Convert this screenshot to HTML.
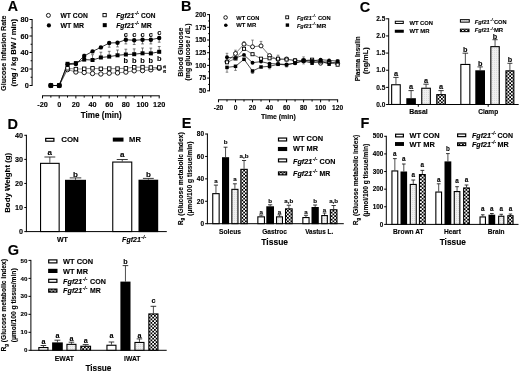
<!DOCTYPE html><html><head><meta charset="utf-8"><style>html,body{margin:0;padding:0;background:#fff;overflow:hidden;}svg text{stroke:#000;stroke-width:0.12px;}svg{display:block;filter:blur(0.35px);font-family:"Liberation Sans",sans-serif;font-weight:bold;}</style></head><body>
<svg width="520" height="373" viewBox="0 0 520 373">
<defs><pattern id="dots" width="2" height="2" patternUnits="userSpaceOnUse"><rect width="2" height="2" fill="#f0f0f0"/><rect width="1" height="1" fill="#dcdcdc"/></pattern><pattern id="chk" width="3.5" height="3.5" patternUnits="userSpaceOnUse"><rect width="3.5" height="3.5" fill="#fff"/><rect x="0" y="0" width="1.75" height="1.75" fill="#000"/><rect x="1.75" y="1.75" width="1.75" height="1.75" fill="#000"/></pattern></defs>
<rect width="520" height="373" fill="#fff"/>
<text x="12.75" y="10.83" font-size="14.2" text-anchor="middle" >A</text>
<text transform="translate(6.34,53.2) rotate(-90)" x="0" y="0" font-size="7.1" text-anchor="middle" textLength="75.4" lengthAdjust="spacingAndGlyphs">Glucose Infusion Rate</text>
<text transform="translate(16.48,52.8) rotate(-90)" x="0" y="0" font-size="7.5" text-anchor="middle" textLength="67.6" lengthAdjust="spacingAndGlyphs">(mg / kg BW / min)</text>
<line x1="32.1" y1="19" x2="32.1" y2="86" stroke="#000" stroke-width="1"/>
<line x1="29.5" y1="19.5" x2="32.1" y2="19.5" stroke="#000" stroke-width="1"/>
<text x="28.7" y="22.01" font-size="7.3" text-anchor="end" >80</text>
<line x1="29.5" y1="36" x2="32.1" y2="36" stroke="#000" stroke-width="1"/>
<text x="28.7" y="38.51" font-size="7.3" text-anchor="end" >60</text>
<line x1="29.5" y1="52.5" x2="32.1" y2="52.5" stroke="#000" stroke-width="1"/>
<text x="28.7" y="55.01" font-size="7.3" text-anchor="end" >40</text>
<line x1="29.5" y1="69" x2="32.1" y2="69" stroke="#000" stroke-width="1"/>
<text x="28.7" y="71.51" font-size="7.3" text-anchor="end" >20</text>
<line x1="29.5" y1="85.5" x2="32.1" y2="85.5" stroke="#000" stroke-width="1"/>
<text x="28.7" y="88.01" font-size="7.3" text-anchor="end" >0</text>
<line x1="30.6" y1="27.75" x2="32.1" y2="27.75" stroke="#000" stroke-width="1"/>
<line x1="30.6" y1="44.25" x2="32.1" y2="44.25" stroke="#000" stroke-width="1"/>
<line x1="30.6" y1="60.75" x2="32.1" y2="60.75" stroke="#000" stroke-width="1"/>
<line x1="30.6" y1="77.25" x2="32.1" y2="77.25" stroke="#000" stroke-width="1"/>
<line x1="42.03" y1="95.8" x2="159.7" y2="95.8" stroke="#000" stroke-width="1"/>
<line x1="42.53" y1="95.8" x2="42.53" y2="98.4" stroke="#000" stroke-width="1"/>
<line x1="50.87" y1="95.8" x2="50.87" y2="97.6" stroke="#000" stroke-width="1"/>
<line x1="59.2" y1="95.8" x2="59.2" y2="98.4" stroke="#000" stroke-width="1"/>
<line x1="67.53" y1="95.8" x2="67.53" y2="97.6" stroke="#000" stroke-width="1"/>
<line x1="75.87" y1="95.8" x2="75.87" y2="98.4" stroke="#000" stroke-width="1"/>
<line x1="84.2" y1="95.8" x2="84.2" y2="97.6" stroke="#000" stroke-width="1"/>
<line x1="92.53" y1="95.8" x2="92.53" y2="98.4" stroke="#000" stroke-width="1"/>
<line x1="100.87" y1="95.8" x2="100.87" y2="97.6" stroke="#000" stroke-width="1"/>
<line x1="109.2" y1="95.8" x2="109.2" y2="98.4" stroke="#000" stroke-width="1"/>
<line x1="117.53" y1="95.8" x2="117.53" y2="97.6" stroke="#000" stroke-width="1"/>
<line x1="125.86" y1="95.8" x2="125.86" y2="98.4" stroke="#000" stroke-width="1"/>
<line x1="134.2" y1="95.8" x2="134.2" y2="97.6" stroke="#000" stroke-width="1"/>
<line x1="142.53" y1="95.8" x2="142.53" y2="98.4" stroke="#000" stroke-width="1"/>
<line x1="150.86" y1="95.8" x2="150.86" y2="97.6" stroke="#000" stroke-width="1"/>
<line x1="159.2" y1="95.8" x2="159.2" y2="98.4" stroke="#000" stroke-width="1"/>
<text x="42.53" y="106.91" font-size="7.3" text-anchor="middle" >-20</text>
<text x="59.2" y="106.91" font-size="7.3" text-anchor="middle" >0</text>
<text x="75.87" y="106.91" font-size="7.3" text-anchor="middle" >20</text>
<text x="92.53" y="106.91" font-size="7.3" text-anchor="middle" >40</text>
<text x="109.2" y="106.91" font-size="7.3" text-anchor="middle" >60</text>
<text x="125.86" y="106.91" font-size="7.3" text-anchor="middle" >80</text>
<text x="142.53" y="106.91" font-size="7.3" text-anchor="middle" >100</text>
<text x="159.2" y="106.91" font-size="7.3" text-anchor="middle" >120</text>
<text x="101.2" y="118.16" font-size="8.3" text-anchor="middle" textLength="40.8" lengthAdjust="spacingAndGlyphs" >Time (min)</text>
<circle cx="48.4" cy="15.4" r="2" fill="#fff" stroke="#000" stroke-width="0.9"/>
<circle cx="48.9" cy="25.4" r="2.1" fill="#000"/>
<text x="60.5" y="17.87" font-size="6.6" textLength="27.3" lengthAdjust="spacingAndGlyphs" >WT CON</text>
<text x="60.5" y="27.87" font-size="6.6" textLength="23.6" lengthAdjust="spacingAndGlyphs" >WT MR</text>
<rect x="102.95" y="13.45" width="3.3" height="3.3" fill="#fff" stroke="#000" stroke-width="0.9"/>
<rect x="102.75" y="23.15" width="4" height="4" fill="#000"/>
<text x="116.2" y="17.87" font-size="6.6" textLength="18.1" lengthAdjust="spacingAndGlyphs" font-style="italic" >Fgf21</text>
<text x="134.7" y="14.94" font-size="4.75" font-style="italic">-/-</text>
<text x="141" y="17.87" font-size="6.6" textLength="14.5" lengthAdjust="spacingAndGlyphs" >CON</text>
<text x="116.2" y="27.87" font-size="6.6" textLength="18.1" lengthAdjust="spacingAndGlyphs" font-style="italic" >Fgf21</text>
<text x="134.7" y="24.94" font-size="4.75" font-style="italic">-/-</text>
<text x="141" y="27.87" font-size="6.6" textLength="10.8" lengthAdjust="spacingAndGlyphs" >MR</text>
<polyline fill="none" stroke="#555" stroke-width="0.7" points="50.87,85.5 59.2,85.5 67.53,69.6 75.87,72 84.2,72.5 92.53,73.5 100.87,74 109.2,73.2 117.53,72.9 125.86,72.1 134.2,70.8 142.53,70.6 150.86,69.8 159.2,68.3"/>
<polyline fill="none" stroke="#555" stroke-width="0.7" points="50.87,85.5 59.2,85.5 67.53,68.3 75.87,69.1 84.2,68.8 92.53,68.3 100.87,68.8 109.2,68.6 117.53,68.6 125.86,68.3 134.2,67.2 142.53,67.1 150.86,67.5 159.2,67.5"/>
<polyline fill="none" stroke="#000" stroke-width="0.8" points="50.87,85.5 59.2,85.5 67.53,64.5 75.87,64 84.2,56 92.53,51.4 100.87,47.4 109.2,43 117.53,42.7 125.86,39.7 134.2,40.3 142.53,39.7 150.86,39.7 159.2,38"/>
<polyline fill="none" stroke="#000" stroke-width="0.8" points="50.87,85.5 59.2,85.5 67.53,63.8 75.87,63.1 84.2,59.6 92.53,60 100.87,57.5 109.2,56.6 117.53,55.3 125.86,54.5 134.2,54.2 142.53,53.3 150.86,53.4 159.2,51.8"/>
<line x1="84.2" y1="59.6" x2="84.2" y2="54.3" stroke="#444" stroke-width="0.7"/>
<line x1="82.8" y1="54.3" x2="85.6" y2="54.3" stroke="#444" stroke-width="0.7"/>
<line x1="92.53" y1="60" x2="92.53" y2="54.7" stroke="#444" stroke-width="0.7"/>
<line x1="91.13" y1="54.7" x2="93.93" y2="54.7" stroke="#444" stroke-width="0.7"/>
<line x1="100.87" y1="57.5" x2="100.87" y2="52.2" stroke="#444" stroke-width="0.7"/>
<line x1="99.47" y1="52.2" x2="102.27" y2="52.2" stroke="#444" stroke-width="0.7"/>
<line x1="109.2" y1="56.6" x2="109.2" y2="51.3" stroke="#444" stroke-width="0.7"/>
<line x1="107.8" y1="51.3" x2="110.6" y2="51.3" stroke="#444" stroke-width="0.7"/>
<line x1="117.53" y1="55.3" x2="117.53" y2="50" stroke="#444" stroke-width="0.7"/>
<line x1="116.13" y1="50" x2="118.93" y2="50" stroke="#444" stroke-width="0.7"/>
<line x1="125.86" y1="54.5" x2="125.86" y2="49.2" stroke="#444" stroke-width="0.7"/>
<line x1="124.46" y1="49.2" x2="127.26" y2="49.2" stroke="#444" stroke-width="0.7"/>
<line x1="134.2" y1="54.2" x2="134.2" y2="48.9" stroke="#444" stroke-width="0.7"/>
<line x1="132.8" y1="48.9" x2="135.6" y2="48.9" stroke="#444" stroke-width="0.7"/>
<line x1="142.53" y1="53.3" x2="142.53" y2="48" stroke="#444" stroke-width="0.7"/>
<line x1="141.13" y1="48" x2="143.93" y2="48" stroke="#444" stroke-width="0.7"/>
<line x1="150.86" y1="53.4" x2="150.86" y2="48.1" stroke="#444" stroke-width="0.7"/>
<line x1="149.46" y1="48.1" x2="152.26" y2="48.1" stroke="#444" stroke-width="0.7"/>
<line x1="159.2" y1="51.8" x2="159.2" y2="46.5" stroke="#444" stroke-width="0.7"/>
<line x1="157.8" y1="46.5" x2="160.6" y2="46.5" stroke="#444" stroke-width="0.7"/>
<line x1="109.2" y1="43" x2="109.2" y2="47.2" stroke="#444" stroke-width="0.7"/>
<line x1="107.8" y1="47.2" x2="110.6" y2="47.2" stroke="#444" stroke-width="0.7"/>
<line x1="117.53" y1="42.7" x2="117.53" y2="46.9" stroke="#444" stroke-width="0.7"/>
<line x1="116.13" y1="46.9" x2="118.93" y2="46.9" stroke="#444" stroke-width="0.7"/>
<line x1="125.86" y1="39.7" x2="125.86" y2="43.9" stroke="#444" stroke-width="0.7"/>
<line x1="124.46" y1="43.9" x2="127.26" y2="43.9" stroke="#444" stroke-width="0.7"/>
<line x1="134.2" y1="40.3" x2="134.2" y2="44.5" stroke="#444" stroke-width="0.7"/>
<line x1="132.8" y1="44.5" x2="135.6" y2="44.5" stroke="#444" stroke-width="0.7"/>
<line x1="142.53" y1="39.7" x2="142.53" y2="43.9" stroke="#444" stroke-width="0.7"/>
<line x1="141.13" y1="43.9" x2="143.93" y2="43.9" stroke="#444" stroke-width="0.7"/>
<line x1="150.86" y1="39.7" x2="150.86" y2="43.9" stroke="#444" stroke-width="0.7"/>
<line x1="149.46" y1="43.9" x2="152.26" y2="43.9" stroke="#444" stroke-width="0.7"/>
<line x1="159.2" y1="38" x2="159.2" y2="42.2" stroke="#444" stroke-width="0.7"/>
<line x1="157.8" y1="42.2" x2="160.6" y2="42.2" stroke="#444" stroke-width="0.7"/>
<circle cx="50.87" cy="85.5" r="2.2" fill="#fff" stroke="#000" stroke-width="0.9"/>
<circle cx="59.2" cy="85.5" r="2.2" fill="#fff" stroke="#000" stroke-width="0.9"/>
<circle cx="67.53" cy="69.6" r="2.2" fill="#fff" stroke="#000" stroke-width="0.9"/>
<circle cx="75.87" cy="72" r="2.2" fill="#fff" stroke="#000" stroke-width="0.9"/>
<circle cx="84.2" cy="72.5" r="2.2" fill="#fff" stroke="#000" stroke-width="0.9"/>
<circle cx="92.53" cy="73.5" r="2.2" fill="#fff" stroke="#000" stroke-width="0.9"/>
<circle cx="100.87" cy="74" r="2.2" fill="#fff" stroke="#000" stroke-width="0.9"/>
<circle cx="109.2" cy="73.2" r="2.2" fill="#fff" stroke="#000" stroke-width="0.9"/>
<circle cx="117.53" cy="72.9" r="2.2" fill="#fff" stroke="#000" stroke-width="0.9"/>
<circle cx="125.86" cy="72.1" r="2.2" fill="#fff" stroke="#000" stroke-width="0.9"/>
<circle cx="134.2" cy="70.8" r="2.2" fill="#fff" stroke="#000" stroke-width="0.9"/>
<circle cx="142.53" cy="70.6" r="2.2" fill="#fff" stroke="#000" stroke-width="0.9"/>
<circle cx="150.86" cy="69.8" r="2.2" fill="#fff" stroke="#000" stroke-width="0.9"/>
<circle cx="159.2" cy="68.3" r="2.2" fill="#fff" stroke="#000" stroke-width="0.9"/>
<rect x="49.12" y="83.75" width="3.5" height="3.5" fill="#fff" stroke="#000" stroke-width="0.9"/>
<rect x="57.45" y="83.75" width="3.5" height="3.5" fill="#fff" stroke="#000" stroke-width="0.9"/>
<rect x="65.78" y="66.55" width="3.5" height="3.5" fill="#fff" stroke="#000" stroke-width="0.9"/>
<rect x="74.12" y="67.35" width="3.5" height="3.5" fill="#fff" stroke="#000" stroke-width="0.9"/>
<rect x="82.45" y="67.05" width="3.5" height="3.5" fill="#fff" stroke="#000" stroke-width="0.9"/>
<rect x="90.78" y="66.55" width="3.5" height="3.5" fill="#fff" stroke="#000" stroke-width="0.9"/>
<rect x="99.12" y="67.05" width="3.5" height="3.5" fill="#fff" stroke="#000" stroke-width="0.9"/>
<rect x="107.45" y="66.85" width="3.5" height="3.5" fill="#fff" stroke="#000" stroke-width="0.9"/>
<rect x="115.78" y="66.85" width="3.5" height="3.5" fill="#fff" stroke="#000" stroke-width="0.9"/>
<rect x="124.11" y="66.55" width="3.5" height="3.5" fill="#fff" stroke="#000" stroke-width="0.9"/>
<rect x="132.45" y="65.45" width="3.5" height="3.5" fill="#fff" stroke="#000" stroke-width="0.9"/>
<rect x="140.78" y="65.35" width="3.5" height="3.5" fill="#fff" stroke="#000" stroke-width="0.9"/>
<rect x="149.11" y="65.75" width="3.5" height="3.5" fill="#fff" stroke="#000" stroke-width="0.9"/>
<rect x="157.45" y="65.75" width="3.5" height="3.5" fill="#fff" stroke="#000" stroke-width="0.9"/>
<circle cx="50.87" cy="85.5" r="2.2" fill="#000"/>
<circle cx="59.2" cy="85.5" r="2.2" fill="#000"/>
<circle cx="67.53" cy="64.5" r="2.2" fill="#000"/>
<circle cx="75.87" cy="64" r="2.2" fill="#000"/>
<circle cx="84.2" cy="56" r="2.2" fill="#000"/>
<circle cx="92.53" cy="51.4" r="2.2" fill="#000"/>
<circle cx="100.87" cy="47.4" r="2.2" fill="#000"/>
<circle cx="109.2" cy="43" r="2.2" fill="#000"/>
<circle cx="117.53" cy="42.7" r="2.2" fill="#000"/>
<circle cx="125.86" cy="39.7" r="2.2" fill="#000"/>
<circle cx="134.2" cy="40.3" r="2.2" fill="#000"/>
<circle cx="142.53" cy="39.7" r="2.2" fill="#000"/>
<circle cx="150.86" cy="39.7" r="2.2" fill="#000"/>
<circle cx="159.2" cy="38" r="2.2" fill="#000"/>
<rect x="48.87" y="83.5" width="4" height="4" fill="#000"/>
<rect x="57.2" y="83.5" width="4" height="4" fill="#000"/>
<rect x="65.53" y="61.8" width="4" height="4" fill="#000"/>
<rect x="73.87" y="61.1" width="4" height="4" fill="#000"/>
<rect x="82.2" y="57.6" width="4" height="4" fill="#000"/>
<rect x="90.53" y="58" width="4" height="4" fill="#000"/>
<rect x="98.87" y="55.5" width="4" height="4" fill="#000"/>
<rect x="107.2" y="54.6" width="4" height="4" fill="#000"/>
<rect x="115.53" y="53.3" width="4" height="4" fill="#000"/>
<rect x="123.86" y="52.5" width="4" height="4" fill="#000"/>
<rect x="132.2" y="52.2" width="4" height="4" fill="#000"/>
<rect x="140.53" y="51.3" width="4" height="4" fill="#000"/>
<rect x="148.86" y="51.4" width="4" height="4" fill="#000"/>
<rect x="157.2" y="49.8" width="4" height="4" fill="#000"/>
<text x="125.86" y="37.12" font-size="7.4" text-anchor="middle" >c</text>
<text x="125.86" y="62.96" font-size="7.4" text-anchor="middle" >b</text>
<text x="134.2" y="37.12" font-size="7.4" text-anchor="middle" >c</text>
<text x="134.2" y="62.96" font-size="7.4" text-anchor="middle" >b</text>
<text x="142.53" y="37.12" font-size="7.4" text-anchor="middle" >c</text>
<text x="142.53" y="62.96" font-size="7.4" text-anchor="middle" >b</text>
<text x="150.86" y="37.12" font-size="7.4" text-anchor="middle" >c</text>
<text x="150.86" y="62.96" font-size="7.4" text-anchor="middle" >b</text>
<text x="159.2" y="34.62" font-size="7.4" text-anchor="middle" >c</text>
<text x="159.2" y="61.26" font-size="7.4" text-anchor="middle" >b</text>
<text transform="translate(166.3,73.0) rotate(-90)" font-size="5.4" x="0" y="0">a a</text>
<text x="186.3" y="11.29" font-size="14.5" text-anchor="middle" >B</text>
<text transform="translate(182.67,52.2) rotate(-90)" x="0" y="0" font-size="6.9" text-anchor="middle" textLength="49.2" lengthAdjust="spacingAndGlyphs">Blood Glucose</text>
<text transform="translate(190.17,52) rotate(-90)" x="0" y="0" font-size="6.9" text-anchor="middle" textLength="56.9" lengthAdjust="spacingAndGlyphs">(mg glucose / dL)</text>
<line x1="209.5" y1="14.1" x2="209.5" y2="91.3" stroke="#000" stroke-width="1"/>
<line x1="207.1" y1="14.6" x2="209.5" y2="14.6" stroke="#000" stroke-width="1"/>
<text x="206.3" y="16.87" font-size="6.6" text-anchor="end" >200</text>
<line x1="207.1" y1="27.3" x2="209.5" y2="27.3" stroke="#000" stroke-width="1"/>
<text x="206.3" y="29.57" font-size="6.6" text-anchor="end" >175</text>
<line x1="207.1" y1="40" x2="209.5" y2="40" stroke="#000" stroke-width="1"/>
<text x="206.3" y="42.27" font-size="6.6" text-anchor="end" >150</text>
<line x1="207.1" y1="52.7" x2="209.5" y2="52.7" stroke="#000" stroke-width="1"/>
<text x="206.3" y="54.97" font-size="6.6" text-anchor="end" >125</text>
<line x1="207.1" y1="65.4" x2="209.5" y2="65.4" stroke="#000" stroke-width="1"/>
<text x="206.3" y="67.67" font-size="6.6" text-anchor="end" >100</text>
<line x1="207.1" y1="78.1" x2="209.5" y2="78.1" stroke="#000" stroke-width="1"/>
<text x="206.3" y="80.37" font-size="6.6" text-anchor="end" >75</text>
<line x1="207.1" y1="90.8" x2="209.5" y2="90.8" stroke="#000" stroke-width="1"/>
<text x="206.3" y="93.07" font-size="6.6" text-anchor="end" >50</text>
<line x1="208.2" y1="84.45" x2="209.5" y2="84.45" stroke="#000" stroke-width="1"/>
<line x1="208.2" y1="71.75" x2="209.5" y2="71.75" stroke="#000" stroke-width="1"/>
<line x1="208.2" y1="59.05" x2="209.5" y2="59.05" stroke="#000" stroke-width="1"/>
<line x1="208.2" y1="46.35" x2="209.5" y2="46.35" stroke="#000" stroke-width="1"/>
<line x1="208.2" y1="33.65" x2="209.5" y2="33.65" stroke="#000" stroke-width="1"/>
<line x1="208.2" y1="20.95" x2="209.5" y2="20.95" stroke="#000" stroke-width="1"/>
<line x1="217.98" y1="99.8" x2="338.12" y2="99.8" stroke="#000" stroke-width="1"/>
<line x1="218.48" y1="99.8" x2="218.48" y2="102.3" stroke="#000" stroke-width="1"/>
<line x1="226.99" y1="99.8" x2="226.99" y2="101.6" stroke="#000" stroke-width="1"/>
<line x1="235.5" y1="99.8" x2="235.5" y2="102.3" stroke="#000" stroke-width="1"/>
<line x1="244.01" y1="99.8" x2="244.01" y2="101.6" stroke="#000" stroke-width="1"/>
<line x1="252.52" y1="99.8" x2="252.52" y2="102.3" stroke="#000" stroke-width="1"/>
<line x1="261.03" y1="99.8" x2="261.03" y2="101.6" stroke="#000" stroke-width="1"/>
<line x1="269.54" y1="99.8" x2="269.54" y2="102.3" stroke="#000" stroke-width="1"/>
<line x1="278.05" y1="99.8" x2="278.05" y2="101.6" stroke="#000" stroke-width="1"/>
<line x1="286.56" y1="99.8" x2="286.56" y2="102.3" stroke="#000" stroke-width="1"/>
<line x1="295.07" y1="99.8" x2="295.07" y2="101.6" stroke="#000" stroke-width="1"/>
<line x1="303.58" y1="99.8" x2="303.58" y2="102.3" stroke="#000" stroke-width="1"/>
<line x1="312.09" y1="99.8" x2="312.09" y2="101.6" stroke="#000" stroke-width="1"/>
<line x1="320.6" y1="99.8" x2="320.6" y2="102.3" stroke="#000" stroke-width="1"/>
<line x1="329.11" y1="99.8" x2="329.11" y2="101.6" stroke="#000" stroke-width="1"/>
<line x1="337.62" y1="99.8" x2="337.62" y2="102.3" stroke="#000" stroke-width="1"/>
<text x="218.48" y="110.17" font-size="6.6" text-anchor="middle" >-20</text>
<text x="235.5" y="110.17" font-size="6.6" text-anchor="middle" >0</text>
<text x="252.52" y="110.17" font-size="6.6" text-anchor="middle" >20</text>
<text x="269.54" y="110.17" font-size="6.6" text-anchor="middle" >40</text>
<text x="286.56" y="110.17" font-size="6.6" text-anchor="middle" >60</text>
<text x="303.58" y="110.17" font-size="6.6" text-anchor="middle" >80</text>
<text x="320.6" y="110.17" font-size="6.6" text-anchor="middle" >100</text>
<text x="337.62" y="110.17" font-size="6.6" text-anchor="middle" >120</text>
<text x="278.3" y="118.78" font-size="7.2" text-anchor="middle" textLength="34.8" lengthAdjust="spacingAndGlyphs" >Time (min)</text>
<circle cx="225.6" cy="17.5" r="1.8" fill="#fff" stroke="#000" stroke-width="0.9"/>
<circle cx="225.8" cy="25.3" r="1.8" fill="#000"/>
<text x="236.3" y="19.56" font-size="6" textLength="23" lengthAdjust="spacingAndGlyphs" >WT CON</text>
<text x="236.3" y="27.36" font-size="6" textLength="20" lengthAdjust="spacingAndGlyphs" >WT MR</text>
<rect x="285.75" y="15.85" width="2.9" height="2.9" fill="#fff" stroke="#000" stroke-width="0.9"/>
<rect x="285.7" y="23.4" width="3.4" height="3.4" fill="#000"/>
<text x="297" y="19.8" font-size="5.8" textLength="14.7" lengthAdjust="spacingAndGlyphs" font-style="italic" >Fgf21</text>
<text x="312.1" y="17.22" font-size="4.18" font-style="italic">-/-</text>
<text x="318" y="19.8" font-size="5.8" textLength="12.7" lengthAdjust="spacingAndGlyphs" >CON</text>
<text x="297" y="27.6" font-size="5.8" textLength="14.7" lengthAdjust="spacingAndGlyphs" font-style="italic" >Fgf21</text>
<text x="312.1" y="25.02" font-size="4.18" font-style="italic">-/-</text>
<text x="316.5" y="27.6" font-size="5.8" textLength="9.7" lengthAdjust="spacingAndGlyphs" >MR</text>
<polyline fill="none" stroke="#444" stroke-width="0.7" points="226.99,61.6 235.5,53.5 244.01,44.1 252.52,46.8 261.03,45.9 269.54,55.6 278.05,59.5 286.56,59 295.07,60.6 303.58,60.6 312.09,61 320.6,63.2 329.11,62 337.62,63.5"/>
<polyline fill="none" stroke="#444" stroke-width="0.7" points="226.99,62.3 235.5,58.5 244.01,48.8 252.52,54.2 261.03,58.7 269.54,58.3 278.05,58.7 286.56,59.5 295.07,60.4 303.58,60.6 312.09,59.7 320.6,61.5 329.11,62 337.62,64.7"/>
<polyline fill="none" stroke="#000" stroke-width="0.7" points="226.99,57.3 235.5,58 244.01,54.9 252.52,62.7 261.03,61.6 269.54,63.6 278.05,63.9 286.56,64.5 295.07,63.2 303.58,60.4 312.09,61 320.6,59.7 329.11,60.4 337.62,61.1"/>
<polyline fill="none" stroke="#000" stroke-width="0.7" points="226.99,67.4 235.5,66.3 244.01,59.3 252.52,71 261.03,67 269.54,66.3 278.05,64.3 286.56,64.9 295.07,63 303.58,61 312.09,63.2 320.6,61 329.11,64.2 337.62,61.3"/>
<line x1="226.99" y1="57.3" x2="226.99" y2="53.3" stroke="#555" stroke-width="0.7"/>
<line x1="225.69" y1="53.3" x2="228.29" y2="53.3" stroke="#555" stroke-width="0.7"/>
<line x1="226.99" y1="67.4" x2="226.99" y2="72.2" stroke="#555" stroke-width="0.7"/>
<line x1="225.69" y1="72.2" x2="228.29" y2="72.2" stroke="#555" stroke-width="0.7"/>
<line x1="235.5" y1="53.5" x2="235.5" y2="50.2" stroke="#555" stroke-width="0.7"/>
<line x1="234.2" y1="50.2" x2="236.8" y2="50.2" stroke="#555" stroke-width="0.7"/>
<line x1="235.5" y1="66.3" x2="235.5" y2="70.4" stroke="#555" stroke-width="0.7"/>
<line x1="234.2" y1="70.4" x2="236.8" y2="70.4" stroke="#555" stroke-width="0.7"/>
<line x1="244.01" y1="44.1" x2="244.01" y2="41.8" stroke="#555" stroke-width="0.7"/>
<line x1="242.71" y1="41.8" x2="245.31" y2="41.8" stroke="#555" stroke-width="0.7"/>
<line x1="252.52" y1="46.8" x2="252.52" y2="40.1" stroke="#555" stroke-width="0.7"/>
<line x1="251.22" y1="40.1" x2="253.82" y2="40.1" stroke="#555" stroke-width="0.7"/>
<line x1="261.03" y1="45.9" x2="261.03" y2="41.4" stroke="#555" stroke-width="0.7"/>
<line x1="259.73" y1="41.4" x2="262.33" y2="41.4" stroke="#555" stroke-width="0.7"/>
<line x1="252.52" y1="71" x2="252.52" y2="73.5" stroke="#555" stroke-width="0.7"/>
<line x1="251.22" y1="73.5" x2="253.82" y2="73.5" stroke="#555" stroke-width="0.7"/>
<line x1="269.54" y1="66.3" x2="269.54" y2="68.8" stroke="#555" stroke-width="0.7"/>
<line x1="268.24" y1="68.8" x2="270.84" y2="68.8" stroke="#555" stroke-width="0.7"/>
<line x1="286.56" y1="64.5" x2="286.56" y2="67" stroke="#555" stroke-width="0.7"/>
<line x1="285.26" y1="67" x2="287.86" y2="67" stroke="#555" stroke-width="0.7"/>
<line x1="278.05" y1="58.7" x2="278.05" y2="55.2" stroke="#555" stroke-width="0.7"/>
<line x1="276.75" y1="55.2" x2="279.35" y2="55.2" stroke="#555" stroke-width="0.7"/>
<line x1="303.58" y1="60.4" x2="303.58" y2="56.9" stroke="#555" stroke-width="0.7"/>
<line x1="302.28" y1="56.9" x2="304.88" y2="56.9" stroke="#555" stroke-width="0.7"/>
<line x1="303.58" y1="60.4" x2="303.58" y2="63.9" stroke="#555" stroke-width="0.7"/>
<line x1="302.28" y1="63.9" x2="304.88" y2="63.9" stroke="#555" stroke-width="0.7"/>
<circle cx="226.99" cy="61.6" r="2" fill="#fff" stroke="#000" stroke-width="0.9"/>
<circle cx="235.5" cy="53.5" r="2" fill="#fff" stroke="#000" stroke-width="0.9"/>
<circle cx="244.01" cy="44.1" r="2" fill="#fff" stroke="#000" stroke-width="0.9"/>
<circle cx="252.52" cy="46.8" r="2" fill="#fff" stroke="#000" stroke-width="0.9"/>
<circle cx="261.03" cy="45.9" r="2" fill="#fff" stroke="#000" stroke-width="0.9"/>
<circle cx="269.54" cy="55.6" r="2" fill="#fff" stroke="#000" stroke-width="0.9"/>
<circle cx="278.05" cy="59.5" r="2" fill="#fff" stroke="#000" stroke-width="0.9"/>
<circle cx="286.56" cy="59" r="2" fill="#fff" stroke="#000" stroke-width="0.9"/>
<circle cx="295.07" cy="60.6" r="2" fill="#fff" stroke="#000" stroke-width="0.9"/>
<circle cx="303.58" cy="60.6" r="2" fill="#fff" stroke="#000" stroke-width="0.9"/>
<circle cx="312.09" cy="61" r="2" fill="#fff" stroke="#000" stroke-width="0.9"/>
<circle cx="320.6" cy="63.2" r="2" fill="#fff" stroke="#000" stroke-width="0.9"/>
<circle cx="329.11" cy="62" r="2" fill="#fff" stroke="#000" stroke-width="0.9"/>
<circle cx="337.62" cy="63.5" r="2" fill="#fff" stroke="#000" stroke-width="0.9"/>
<rect x="225.44" y="60.75" width="3.1" height="3.1" fill="#fff" stroke="#000" stroke-width="0.9"/>
<rect x="233.95" y="56.95" width="3.1" height="3.1" fill="#fff" stroke="#000" stroke-width="0.9"/>
<rect x="242.46" y="47.25" width="3.1" height="3.1" fill="#fff" stroke="#000" stroke-width="0.9"/>
<rect x="250.97" y="52.65" width="3.1" height="3.1" fill="#fff" stroke="#000" stroke-width="0.9"/>
<rect x="259.48" y="57.15" width="3.1" height="3.1" fill="#fff" stroke="#000" stroke-width="0.9"/>
<rect x="267.99" y="56.75" width="3.1" height="3.1" fill="#fff" stroke="#000" stroke-width="0.9"/>
<rect x="276.5" y="57.15" width="3.1" height="3.1" fill="#fff" stroke="#000" stroke-width="0.9"/>
<rect x="285.01" y="57.95" width="3.1" height="3.1" fill="#fff" stroke="#000" stroke-width="0.9"/>
<rect x="293.52" y="58.85" width="3.1" height="3.1" fill="#fff" stroke="#000" stroke-width="0.9"/>
<rect x="302.03" y="59.05" width="3.1" height="3.1" fill="#fff" stroke="#000" stroke-width="0.9"/>
<rect x="310.54" y="58.15" width="3.1" height="3.1" fill="#fff" stroke="#000" stroke-width="0.9"/>
<rect x="319.05" y="59.95" width="3.1" height="3.1" fill="#fff" stroke="#000" stroke-width="0.9"/>
<rect x="327.56" y="60.45" width="3.1" height="3.1" fill="#fff" stroke="#000" stroke-width="0.9"/>
<rect x="336.07" y="63.15" width="3.1" height="3.1" fill="#fff" stroke="#000" stroke-width="0.9"/>
<circle cx="226.99" cy="57.3" r="1.95" fill="#000"/>
<circle cx="235.5" cy="58" r="1.95" fill="#000"/>
<circle cx="244.01" cy="54.9" r="1.95" fill="#000"/>
<circle cx="252.52" cy="62.7" r="1.95" fill="#000"/>
<circle cx="261.03" cy="61.6" r="1.95" fill="#000"/>
<circle cx="269.54" cy="63.6" r="1.95" fill="#000"/>
<circle cx="278.05" cy="63.9" r="1.95" fill="#000"/>
<circle cx="286.56" cy="64.5" r="1.95" fill="#000"/>
<circle cx="295.07" cy="63.2" r="1.95" fill="#000"/>
<circle cx="303.58" cy="60.4" r="1.95" fill="#000"/>
<circle cx="312.09" cy="61" r="1.95" fill="#000"/>
<circle cx="320.6" cy="59.7" r="1.95" fill="#000"/>
<circle cx="329.11" cy="60.4" r="1.95" fill="#000"/>
<circle cx="337.62" cy="61.1" r="1.95" fill="#000"/>
<rect x="225.24" y="65.65" width="3.5" height="3.5" fill="#000"/>
<rect x="233.75" y="64.55" width="3.5" height="3.5" fill="#000"/>
<rect x="242.26" y="57.55" width="3.5" height="3.5" fill="#000"/>
<rect x="250.77" y="69.25" width="3.5" height="3.5" fill="#000"/>
<rect x="259.28" y="65.25" width="3.5" height="3.5" fill="#000"/>
<rect x="267.79" y="64.55" width="3.5" height="3.5" fill="#000"/>
<rect x="276.3" y="62.55" width="3.5" height="3.5" fill="#000"/>
<rect x="284.81" y="63.15" width="3.5" height="3.5" fill="#000"/>
<rect x="293.32" y="61.25" width="3.5" height="3.5" fill="#000"/>
<rect x="301.83" y="59.25" width="3.5" height="3.5" fill="#000"/>
<rect x="310.34" y="61.45" width="3.5" height="3.5" fill="#000"/>
<rect x="318.85" y="59.25" width="3.5" height="3.5" fill="#000"/>
<rect x="327.36" y="62.45" width="3.5" height="3.5" fill="#000"/>
<rect x="335.87" y="59.55" width="3.5" height="3.5" fill="#000"/>
<text x="365" y="11.99" font-size="14.5" text-anchor="middle" >C</text>
<text transform="translate(360.34,58.8) rotate(-90)" x="0" y="0" font-size="6.5" text-anchor="middle" textLength="45.1" lengthAdjust="spacingAndGlyphs">Plasma Insulin</text>
<text transform="translate(367.87,60.7) rotate(-90)" x="0" y="0" font-size="6.9" text-anchor="middle" textLength="26.8" lengthAdjust="spacingAndGlyphs">(ng/mL)</text>
<line x1="388.7" y1="18.3" x2="388.7" y2="105" stroke="#000" stroke-width="1"/>
<line x1="386.1" y1="18.8" x2="388.7" y2="18.8" stroke="#000" stroke-width="1"/>
<text x="385.3" y="21.04" font-size="6.5" text-anchor="end" >2.5</text>
<line x1="386.1" y1="35.94" x2="388.7" y2="35.94" stroke="#000" stroke-width="1"/>
<text x="385.3" y="38.18" font-size="6.5" text-anchor="end" >2.0</text>
<line x1="386.1" y1="53.08" x2="388.7" y2="53.08" stroke="#000" stroke-width="1"/>
<text x="385.3" y="55.32" font-size="6.5" text-anchor="end" >1.5</text>
<line x1="386.1" y1="70.22" x2="388.7" y2="70.22" stroke="#000" stroke-width="1"/>
<text x="385.3" y="72.46" font-size="6.5" text-anchor="end" >1.0</text>
<line x1="386.1" y1="87.36" x2="388.7" y2="87.36" stroke="#000" stroke-width="1"/>
<text x="385.3" y="89.6" font-size="6.5" text-anchor="end" >0.5</text>
<line x1="386.1" y1="104.5" x2="388.7" y2="104.5" stroke="#000" stroke-width="1"/>
<text x="385.3" y="106.74" font-size="6.5" text-anchor="end" >0.0</text>
<line x1="388.7" y1="104.5" x2="518.7" y2="104.5" stroke="#000" stroke-width="1"/>
<line x1="418.3" y1="104.5" x2="418.3" y2="106.8" stroke="#000" stroke-width="1"/>
<line x1="488.2" y1="104.5" x2="488.2" y2="106.8" stroke="#000" stroke-width="1"/>
<text x="418.5" y="114.34" font-size="6.8" text-anchor="middle" textLength="18.6" lengthAdjust="spacingAndGlyphs" >Basal</text>
<text x="488.2" y="114.34" font-size="6.8" text-anchor="middle" textLength="20" lengthAdjust="spacingAndGlyphs" >Clamp</text>
<line x1="395.95" y1="84.2" x2="395.95" y2="77.4" stroke="#222" stroke-width="0.8"/>
<line x1="393.28" y1="77.4" x2="398.62" y2="77.4" stroke="#222" stroke-width="0.9"/>
<rect x="391.65" y="84.75" width="8.6" height="19.7" fill="#fff" stroke="#000" stroke-width="1.1"/>
<text x="395.95" y="75.8" font-size="7.3" text-anchor="middle" >a</text>
<line x1="411.1" y1="98.2" x2="411.1" y2="90.6" stroke="#222" stroke-width="0.8"/>
<line x1="408.46" y1="90.6" x2="413.74" y2="90.6" stroke="#222" stroke-width="0.9"/>
<rect x="406.3" y="98.2" width="9.6" height="6.8" fill="#000"/>
<text x="411.1" y="89" font-size="7.3" text-anchor="middle" >a</text>
<line x1="426.05" y1="87.7" x2="426.05" y2="84.2" stroke="#222" stroke-width="0.8"/>
<line x1="423.38" y1="84.2" x2="428.72" y2="84.2" stroke="#222" stroke-width="0.9"/>
<rect x="421.75" y="88.25" width="8.6" height="16.2" fill="url(#dots)" stroke="#000" stroke-width="1.1"/>
<text x="426.05" y="82.6" font-size="7.3" text-anchor="middle" >a</text>
<line x1="441.05" y1="94.1" x2="441.05" y2="90.6" stroke="#222" stroke-width="0.8"/>
<line x1="438.38" y1="90.6" x2="443.72" y2="90.6" stroke="#222" stroke-width="0.9"/>
<rect x="436.75" y="94.65" width="8.6" height="9.8" fill="url(#chk)" stroke="#000" stroke-width="1.1"/>
<text x="441.05" y="89" font-size="7.3" text-anchor="middle" >a</text>
<line x1="465.35" y1="63.9" x2="465.35" y2="53.2" stroke="#222" stroke-width="0.8"/>
<line x1="462.57" y1="53.2" x2="468.13" y2="53.2" stroke="#222" stroke-width="0.9"/>
<rect x="460.85" y="64.45" width="9" height="40" fill="#fff" stroke="#000" stroke-width="1.1"/>
<text x="465.35" y="52.33" font-size="7.3" text-anchor="middle" >b</text>
<line x1="480.15" y1="70.3" x2="480.15" y2="66.9" stroke="#222" stroke-width="0.8"/>
<line x1="477.48" y1="66.9" x2="482.82" y2="66.9" stroke="#222" stroke-width="0.9"/>
<rect x="475.3" y="70.3" width="9.7" height="34.7" fill="#000"/>
<text x="480.15" y="66.03" font-size="7.3" text-anchor="middle" >b</text>
<line x1="495.05" y1="46.1" x2="495.05" y2="39.7" stroke="#222" stroke-width="0.8"/>
<line x1="492.44" y1="39.7" x2="497.66" y2="39.7" stroke="#222" stroke-width="0.9"/>
<rect x="490.85" y="46.65" width="8.4" height="57.8" fill="url(#dots)" stroke="#000" stroke-width="1.1"/>
<text x="495.05" y="38.83" font-size="7.3" text-anchor="middle" >b</text>
<line x1="509.9" y1="70.3" x2="509.9" y2="63.3" stroke="#222" stroke-width="0.8"/>
<line x1="507.42" y1="63.3" x2="512.38" y2="63.3" stroke="#222" stroke-width="0.9"/>
<rect x="505.95" y="70.85" width="7.9" height="33.6" fill="url(#chk)" stroke="#000" stroke-width="1.1"/>
<text x="509.9" y="62.43" font-size="7.3" text-anchor="middle" >b</text>
<rect x="395.3" y="21.25" width="8" height="2.2" fill="#fff" stroke="#000" stroke-width="1"/>
<rect x="394.8" y="29.75" width="9" height="3" fill="#000"/>
<text x="409.5" y="24.66" font-size="6" textLength="23.5" lengthAdjust="spacingAndGlyphs" >WT CON</text>
<text x="409.5" y="32.96" font-size="6" textLength="20" lengthAdjust="spacingAndGlyphs" >WT MR</text>
<rect x="460.4" y="19.65" width="8.9" height="2.5" fill="url(#dots)" stroke="#000" stroke-width="1"/>
<rect x="460.4" y="29.15" width="8.6" height="2.5" fill="url(#chk)" stroke="#000" stroke-width="1"/>
<text x="474.8" y="23.96" font-size="6" textLength="14.8" lengthAdjust="spacingAndGlyphs" font-style="italic" >Fgf21</text>
<text x="490" y="21.3" font-size="4.32" font-style="italic">-/-</text>
<text x="493.9" y="23.96" font-size="6" textLength="12.6" lengthAdjust="spacingAndGlyphs" >CON</text>
<text x="474.8" y="32.46" font-size="6" textLength="14.8" lengthAdjust="spacingAndGlyphs" font-style="italic" >Fgf21</text>
<text x="490" y="29.8" font-size="4.32" font-style="italic">-/-</text>
<text x="493.9" y="32.46" font-size="6" textLength="9.3" lengthAdjust="spacingAndGlyphs" >MR</text>
<text x="12.75" y="129.09" font-size="14.5" text-anchor="middle" >D</text>
<text transform="translate(9.65,182.8) rotate(-90)" x="0" y="0" font-size="7.7" text-anchor="middle" textLength="60" lengthAdjust="spacingAndGlyphs">Body Weight (g)</text>
<line x1="26.4" y1="134.8" x2="26.4" y2="232.1" stroke="#000" stroke-width="1"/>
<line x1="24.3" y1="135.3" x2="26.4" y2="135.3" stroke="#000" stroke-width="1"/>
<text x="22.9" y="137.78" font-size="7.2" text-anchor="end" >40</text>
<line x1="24.3" y1="159.38" x2="26.4" y2="159.38" stroke="#000" stroke-width="1"/>
<text x="22.9" y="161.85" font-size="7.2" text-anchor="end" >30</text>
<line x1="24.3" y1="183.45" x2="26.4" y2="183.45" stroke="#000" stroke-width="1"/>
<text x="22.9" y="185.93" font-size="7.2" text-anchor="end" >20</text>
<line x1="24.3" y1="207.52" x2="26.4" y2="207.52" stroke="#000" stroke-width="1"/>
<text x="22.9" y="210" font-size="7.2" text-anchor="end" >10</text>
<line x1="24.3" y1="231.6" x2="26.4" y2="231.6" stroke="#000" stroke-width="1"/>
<text x="22.9" y="234.08" font-size="7.2" text-anchor="end" >0</text>
<line x1="26.4" y1="231.6" x2="166.8" y2="231.6" stroke="#000" stroke-width="1"/>
<line x1="49.85" y1="162.8" x2="49.85" y2="157" stroke="#222" stroke-width="0.8"/>
<line x1="44.43" y1="157" x2="55.27" y2="157" stroke="#222" stroke-width="0.9"/>
<rect x="40.55" y="163.35" width="18.6" height="68.2" fill="#fff" stroke="#000" stroke-width="1.1"/>
<text x="49.85" y="154.58" font-size="8" text-anchor="middle" >a</text>
<line x1="75.5" y1="179.8" x2="75.5" y2="177.9" stroke="#222" stroke-width="0.8"/>
<line x1="69.72" y1="177.9" x2="81.28" y2="177.9" stroke="#222" stroke-width="0.9"/>
<rect x="65" y="179.8" width="21" height="52.3" fill="#000"/>
<text x="75.5" y="176.78" font-size="8" text-anchor="middle" >b</text>
<line x1="122.25" y1="161.5" x2="122.25" y2="159.5" stroke="#222" stroke-width="0.8"/>
<line x1="116.72" y1="159.5" x2="127.78" y2="159.5" stroke="#222" stroke-width="0.9"/>
<rect x="112.75" y="162.05" width="19" height="69.5" fill="#fff" stroke="#000" stroke-width="1.1"/>
<text x="122.25" y="156.58" font-size="8" text-anchor="middle" >a</text>
<line x1="148.35" y1="179.7" x2="148.35" y2="178.4" stroke="#222" stroke-width="0.8"/>
<line x1="142.93" y1="178.4" x2="153.77" y2="178.4" stroke="#222" stroke-width="0.9"/>
<rect x="138.5" y="179.7" width="19.7" height="52.4" fill="#000"/>
<text x="148.35" y="177.38" font-size="8" text-anchor="middle" >b</text>
<text x="62.4" y="242.21" font-size="7" text-anchor="middle" textLength="11" lengthAdjust="spacingAndGlyphs" >WT</text>
<text x="122.1" y="242.18" font-size="7.2" textLength="18.8" lengthAdjust="spacingAndGlyphs" font-style="italic" >Fgf21</text>
<text x="141.3" y="238.98" font-size="5.18" font-style="italic">-/-</text>
<text x="150" y="242.18" font-size="7.2" ></text>
<rect x="45.7" y="138.4" width="8.2" height="2.8" fill="#fff" stroke="#000" stroke-width="1.2"/>
<rect x="112.8" y="137.6" width="10.7" height="4" fill="#000"/>
<text x="61.3" y="142.45" font-size="8" textLength="17.5" lengthAdjust="spacingAndGlyphs" >CON</text>
<text x="129.1" y="142.45" font-size="8" textLength="11.8" lengthAdjust="spacingAndGlyphs" >MR</text>
<text x="186.5" y="128.19" font-size="14.5" text-anchor="middle" >E</text>
<text transform="translate(182.74,178.8) rotate(-90)" x="0" y="0" font-size="6.8" text-anchor="middle" textLength="92.9" lengthAdjust="spacingAndGlyphs">R<tspan font-size="4.5" dy="1.5">g</tspan><tspan dy="-1.5"> (Glucose metabolic index)</tspan></text>
<text transform="translate(192.17,178.7) rotate(-90)" x="0" y="0" font-size="6.6" text-anchor="middle" textLength="74.2" lengthAdjust="spacingAndGlyphs">(µmol/100 g tissue/min)</text>
<line x1="207.4" y1="133.52" x2="207.4" y2="224.2" stroke="#000" stroke-width="1"/>
<line x1="205.1" y1="134.02" x2="207.4" y2="134.02" stroke="#000" stroke-width="1"/>
<text x="204.1" y="136.26" font-size="6.5" text-anchor="end" >80</text>
<line x1="205.1" y1="156.44" x2="207.4" y2="156.44" stroke="#000" stroke-width="1"/>
<text x="204.1" y="158.68" font-size="6.5" text-anchor="end" >60</text>
<line x1="205.1" y1="178.86" x2="207.4" y2="178.86" stroke="#000" stroke-width="1"/>
<text x="204.1" y="181.1" font-size="6.5" text-anchor="end" >40</text>
<line x1="205.1" y1="201.28" x2="207.4" y2="201.28" stroke="#000" stroke-width="1"/>
<text x="204.1" y="203.52" font-size="6.5" text-anchor="end" >20</text>
<line x1="205.1" y1="223.7" x2="207.4" y2="223.7" stroke="#000" stroke-width="1"/>
<text x="204.1" y="225.94" font-size="6.5" text-anchor="end" >0</text>
<line x1="207.4" y1="223.7" x2="343.8" y2="223.7" stroke="#000" stroke-width="1"/>
<line x1="215.95" y1="193.1" x2="215.95" y2="185.1" stroke="#222" stroke-width="0.8"/>
<line x1="213.89" y1="185.1" x2="218.01" y2="185.1" stroke="#222" stroke-width="0.9"/>
<rect x="212.75" y="193.65" width="6.4" height="30" fill="#fff" stroke="#000" stroke-width="1.1"/>
<text x="215.95" y="183.11" font-size="6.2" text-anchor="middle" >a</text>
<line x1="225.55" y1="157.2" x2="225.55" y2="147.2" stroke="#222" stroke-width="0.8"/>
<line x1="223.6" y1="147.2" x2="227.5" y2="147.2" stroke="#222" stroke-width="0.9"/>
<rect x="222" y="157.2" width="7.1" height="67" fill="#000"/>
<text x="225.55" y="144.23" font-size="6.2" text-anchor="middle" >b</text>
<line x1="234.9" y1="188.8" x2="234.9" y2="183.8" stroke="#222" stroke-width="0.8"/>
<line x1="232.92" y1="183.8" x2="236.88" y2="183.8" stroke="#222" stroke-width="0.9"/>
<rect x="231.85" y="189.35" width="6.1" height="34.3" fill="url(#dots)" stroke="#000" stroke-width="1.1"/>
<text x="234.9" y="180.61" font-size="6.2" text-anchor="middle" >a</text>
<line x1="244.05" y1="168.8" x2="244.05" y2="160.5" stroke="#222" stroke-width="0.8"/>
<line x1="241.99" y1="160.5" x2="246.11" y2="160.5" stroke="#222" stroke-width="0.9"/>
<rect x="240.85" y="169.35" width="6.4" height="54.3" fill="url(#chk)" stroke="#000" stroke-width="1.1"/>
<text x="244.05" y="158.46" font-size="6.2" text-anchor="middle" >a,b</text>
<line x1="261.15" y1="216.3" x2="261.15" y2="215" stroke="#222" stroke-width="0.8"/>
<line x1="259.03" y1="215" x2="263.27" y2="215" stroke="#222" stroke-width="0.9"/>
<rect x="257.85" y="216.85" width="6.6" height="6.8" fill="#fff" stroke="#000" stroke-width="1.1"/>
<text x="261.15" y="213.71" font-size="6.2" text-anchor="middle" >a</text>
<line x1="270.15" y1="206.3" x2="270.15" y2="204.8" stroke="#222" stroke-width="0.8"/>
<line x1="268.03" y1="204.8" x2="272.27" y2="204.8" stroke="#222" stroke-width="0.9"/>
<rect x="266.3" y="206.3" width="7.7" height="17.9" fill="#000"/>
<text x="270.15" y="203.43" font-size="6.2" text-anchor="middle" >b</text>
<line x1="279.5" y1="216.3" x2="279.5" y2="214.8" stroke="#222" stroke-width="0.8"/>
<line x1="277.57" y1="214.8" x2="281.43" y2="214.8" stroke="#222" stroke-width="0.9"/>
<rect x="276.55" y="216.85" width="5.9" height="6.8" fill="url(#dots)" stroke="#000" stroke-width="1.1"/>
<text x="279.5" y="213.71" font-size="6.2" text-anchor="middle" >a</text>
<line x1="288.85" y1="208.3" x2="288.85" y2="205.2" stroke="#222" stroke-width="0.8"/>
<line x1="286.73" y1="205.2" x2="290.97" y2="205.2" stroke="#222" stroke-width="0.9"/>
<rect x="285.55" y="208.85" width="6.6" height="14.8" fill="url(#chk)" stroke="#000" stroke-width="1.1"/>
<text x="288.85" y="203.06" font-size="6.2" text-anchor="middle" >a,b</text>
<line x1="305.95" y1="217" x2="305.95" y2="215.3" stroke="#222" stroke-width="0.8"/>
<line x1="303.94" y1="215.3" x2="307.96" y2="215.3" stroke="#222" stroke-width="0.9"/>
<rect x="302.85" y="217.55" width="6.2" height="6.1" fill="#fff" stroke="#000" stroke-width="1.1"/>
<text x="305.95" y="214.21" font-size="6.2" text-anchor="middle" >a</text>
<line x1="315.15" y1="207" x2="315.15" y2="205" stroke="#222" stroke-width="0.8"/>
<line x1="313.14" y1="205" x2="317.16" y2="205" stroke="#222" stroke-width="0.9"/>
<rect x="311.5" y="207" width="7.3" height="17.2" fill="#000"/>
<text x="315.15" y="203.43" font-size="6.2" text-anchor="middle" >b</text>
<line x1="324.55" y1="215" x2="324.55" y2="213" stroke="#222" stroke-width="0.8"/>
<line x1="322.71" y1="213" x2="326.39" y2="213" stroke="#222" stroke-width="0.9"/>
<rect x="321.75" y="215.55" width="5.6" height="8.1" fill="url(#dots)" stroke="#000" stroke-width="1.1"/>
<text x="324.55" y="212.11" font-size="6.2" text-anchor="middle" >a</text>
<line x1="333.65" y1="209.2" x2="333.65" y2="205.5" stroke="#222" stroke-width="0.8"/>
<line x1="331.53" y1="205.5" x2="335.77" y2="205.5" stroke="#222" stroke-width="0.9"/>
<rect x="330.35" y="209.75" width="6.6" height="13.9" fill="url(#chk)" stroke="#000" stroke-width="1.1"/>
<text x="333.65" y="203.06" font-size="6.2" text-anchor="middle" >a,b</text>
<text x="230" y="233.57" font-size="6.6" text-anchor="middle" textLength="22" lengthAdjust="spacingAndGlyphs" >Soleus</text>
<text x="274.6" y="233.77" font-size="6.6" text-anchor="middle" textLength="24.6" lengthAdjust="spacingAndGlyphs" >Gastroc</text>
<text x="319.2" y="233.57" font-size="6.6" text-anchor="middle" textLength="28" lengthAdjust="spacingAndGlyphs" >Vastus L.</text>
<text x="274.7" y="245.22" font-size="8.5" text-anchor="middle" textLength="26.7" lengthAdjust="spacingAndGlyphs" >Tissue</text>
<rect x="278.5" y="138.05" width="8.1" height="2.9" fill="#fff" stroke="#000" stroke-width="1.2"/>
<rect x="277.9" y="146.95" width="9.3" height="4.1" fill="#000"/>
<rect x="278.5" y="158.95" width="8.1" height="2.9" fill="#f6f6f6" stroke="#000" stroke-width="1.2"/>
<rect x="278.5" y="171.95" width="8.1" height="2.9" fill="url(#chk)" stroke="#000" stroke-width="1.2"/>
<text x="293" y="141.44" font-size="6.8" textLength="30" lengthAdjust="spacingAndGlyphs" >WT CON</text>
<text x="293" y="151.44" font-size="6.8" textLength="25" lengthAdjust="spacingAndGlyphs" >WT MR</text>
<text x="293" y="163.64" font-size="6.8" textLength="19.3" lengthAdjust="spacingAndGlyphs" font-style="italic" >Fgf21</text>
<text x="312.7" y="160.62" font-size="4.9" font-style="italic">-/-</text>
<text x="319.5" y="163.64" font-size="6.8" textLength="15.9" lengthAdjust="spacingAndGlyphs" >CON</text>
<text x="293" y="176.24" font-size="6.8" textLength="19.3" lengthAdjust="spacingAndGlyphs" font-style="italic" >Fgf21</text>
<text x="312.7" y="173.22" font-size="4.9" font-style="italic">-/-</text>
<text x="319.5" y="176.24" font-size="6.8" textLength="10.8" lengthAdjust="spacingAndGlyphs" >MR</text>
<text x="365" y="128.09" font-size="14.5" text-anchor="middle" >F</text>
<text transform="translate(358.3,180) rotate(-90)" x="0" y="0" font-size="6.7" text-anchor="middle" textLength="90.5" lengthAdjust="spacingAndGlyphs">R<tspan font-size="4.5" dy="1.5">g</tspan><tspan dy="-1.5"> (Glucose metabolic index)</tspan></text>
<text transform="translate(367.84,180.2) rotate(-90)" x="0" y="0" font-size="6.5" text-anchor="middle" textLength="72.8" lengthAdjust="spacingAndGlyphs">(µmol/100 g tissue/min)</text>
<line x1="386.3" y1="135.8" x2="386.3" y2="224.9" stroke="#000" stroke-width="1"/>
<line x1="384.2" y1="136.3" x2="386.3" y2="136.3" stroke="#000" stroke-width="1"/>
<text x="383.2" y="138.47" font-size="6.3" text-anchor="end" >500</text>
<line x1="384.2" y1="153.92" x2="386.3" y2="153.92" stroke="#000" stroke-width="1"/>
<text x="383.2" y="156.09" font-size="6.3" text-anchor="end" >400</text>
<line x1="384.2" y1="171.54" x2="386.3" y2="171.54" stroke="#000" stroke-width="1"/>
<text x="383.2" y="173.71" font-size="6.3" text-anchor="end" >300</text>
<line x1="384.2" y1="189.16" x2="386.3" y2="189.16" stroke="#000" stroke-width="1"/>
<text x="383.2" y="191.33" font-size="6.3" text-anchor="end" >200</text>
<line x1="384.2" y1="206.78" x2="386.3" y2="206.78" stroke="#000" stroke-width="1"/>
<text x="383.2" y="208.95" font-size="6.3" text-anchor="end" >100</text>
<line x1="384.2" y1="224.4" x2="386.3" y2="224.4" stroke="#000" stroke-width="1"/>
<text x="383.2" y="226.57" font-size="6.3" text-anchor="end" >0</text>
<line x1="386.3" y1="224.4" x2="518.5" y2="224.4" stroke="#000" stroke-width="1"/>
<line x1="394.85" y1="170.4" x2="394.85" y2="158.6" stroke="#222" stroke-width="0.8"/>
<line x1="392.95" y1="158.6" x2="396.75" y2="158.6" stroke="#222" stroke-width="0.9"/>
<rect x="391.95" y="170.95" width="5.8" height="53.4" fill="#fff" stroke="#000" stroke-width="1.1"/>
<text x="394.85" y="155.54" font-size="6.3" text-anchor="middle" >a</text>
<line x1="403.8" y1="171.5" x2="403.8" y2="164" stroke="#222" stroke-width="0.8"/>
<line x1="401.99" y1="164" x2="405.62" y2="164" stroke="#222" stroke-width="0.9"/>
<rect x="400.5" y="171.5" width="6.6" height="53.4" fill="#000"/>
<text x="403.8" y="161.34" font-size="6.3" text-anchor="middle" >a</text>
<line x1="413.25" y1="183.9" x2="413.25" y2="180" stroke="#222" stroke-width="0.8"/>
<line x1="411.3" y1="180" x2="415.2" y2="180" stroke="#222" stroke-width="0.9"/>
<rect x="410.25" y="184.45" width="6" height="39.9" fill="url(#dots)" stroke="#000" stroke-width="1.1"/>
<text x="413.25" y="177.44" font-size="6.3" text-anchor="middle" >a</text>
<line x1="422.35" y1="174" x2="422.35" y2="170.4" stroke="#222" stroke-width="0.8"/>
<line x1="420.45" y1="170.4" x2="424.25" y2="170.4" stroke="#222" stroke-width="0.9"/>
<rect x="419.45" y="174.55" width="5.8" height="49.8" fill="url(#chk)" stroke="#000" stroke-width="1.1"/>
<text x="422.35" y="167.14" font-size="6.3" text-anchor="middle" >a</text>
<line x1="438.7" y1="191.5" x2="438.7" y2="183.8" stroke="#222" stroke-width="0.8"/>
<line x1="436.83" y1="183.8" x2="440.57" y2="183.8" stroke="#222" stroke-width="0.9"/>
<rect x="435.85" y="192.05" width="5.7" height="32.3" fill="#fff" stroke="#000" stroke-width="1.1"/>
<text x="438.7" y="181.84" font-size="6.3" text-anchor="middle" >a</text>
<line x1="447.9" y1="161.4" x2="447.9" y2="153.6" stroke="#222" stroke-width="0.8"/>
<line x1="446.03" y1="153.6" x2="449.77" y2="153.6" stroke="#222" stroke-width="0.9"/>
<rect x="444.5" y="161.4" width="6.8" height="63.5" fill="#000"/>
<text x="447.9" y="151.47" font-size="6.3" text-anchor="middle" >b</text>
<line x1="457.05" y1="191" x2="457.05" y2="186.7" stroke="#222" stroke-width="0.8"/>
<line x1="455.21" y1="186.7" x2="458.89" y2="186.7" stroke="#222" stroke-width="0.9"/>
<rect x="454.25" y="191.55" width="5.6" height="32.8" fill="url(#dots)" stroke="#000" stroke-width="1.1"/>
<text x="457.05" y="183.04" font-size="6.3" text-anchor="middle" >a</text>
<line x1="466.5" y1="187.4" x2="466.5" y2="185" stroke="#222" stroke-width="0.8"/>
<line x1="464.63" y1="185" x2="468.37" y2="185" stroke="#222" stroke-width="0.9"/>
<rect x="463.65" y="187.95" width="5.7" height="36.4" fill="url(#chk)" stroke="#000" stroke-width="1.1"/>
<text x="466.5" y="181.84" font-size="6.3" text-anchor="middle" >a</text>
<line x1="482.75" y1="216.4" x2="482.75" y2="214.8" stroke="#222" stroke-width="0.8"/>
<line x1="480.96" y1="214.8" x2="484.54" y2="214.8" stroke="#222" stroke-width="0.9"/>
<rect x="480.05" y="216.95" width="5.4" height="7.4" fill="#fff" stroke="#000" stroke-width="1.1"/>
<text x="482.75" y="211.14" font-size="6.3" text-anchor="middle" >a</text>
<line x1="491.85" y1="214.7" x2="491.85" y2="213.5" stroke="#222" stroke-width="0.8"/>
<line x1="490.01" y1="213.5" x2="493.69" y2="213.5" stroke="#222" stroke-width="0.9"/>
<rect x="488.5" y="214.7" width="6.7" height="10.2" fill="#000"/>
<text x="491.85" y="210.84" font-size="6.3" text-anchor="middle" >a</text>
<line x1="501.25" y1="215.7" x2="501.25" y2="214.3" stroke="#222" stroke-width="0.8"/>
<line x1="499.52" y1="214.3" x2="502.98" y2="214.3" stroke="#222" stroke-width="0.9"/>
<rect x="498.65" y="216.25" width="5.2" height="8.1" fill="url(#dots)" stroke="#000" stroke-width="1.1"/>
<text x="501.25" y="211.14" font-size="6.3" text-anchor="middle" >a</text>
<line x1="510.45" y1="215.2" x2="510.45" y2="214" stroke="#222" stroke-width="0.8"/>
<line x1="508.72" y1="214" x2="512.18" y2="214" stroke="#222" stroke-width="0.9"/>
<rect x="507.85" y="215.75" width="5.2" height="8.6" fill="url(#chk)" stroke="#000" stroke-width="1.1"/>
<text x="510.45" y="211.14" font-size="6.3" text-anchor="middle" >a</text>
<text x="408.3" y="234.17" font-size="6.6" text-anchor="middle" textLength="30.5" lengthAdjust="spacingAndGlyphs" >Brown AT</text>
<text x="452.4" y="234.17" font-size="6.6" text-anchor="middle" textLength="17" lengthAdjust="spacingAndGlyphs" >Heart</text>
<text x="496.2" y="234.17" font-size="6.6" text-anchor="middle" textLength="16.7" lengthAdjust="spacingAndGlyphs" >Brain</text>
<text x="452.8" y="245.19" font-size="8.4" text-anchor="middle" textLength="26.2" lengthAdjust="spacingAndGlyphs" >Tissue</text>
<rect x="395.6" y="134.2" width="7.8" height="2.7" fill="#fff" stroke="#000" stroke-width="1.2"/>
<rect x="395" y="142.05" width="9" height="3.9" fill="#000"/>
<text x="409.5" y="138.32" font-size="6.9" textLength="30" lengthAdjust="spacingAndGlyphs" >WT CON</text>
<text x="409.5" y="146.67" font-size="6.9" textLength="25.3" lengthAdjust="spacingAndGlyphs" >WT MR</text>
<rect x="457.6" y="133.95" width="8.1" height="2.7" fill="#f6f6f6" stroke="#000" stroke-width="1.2"/>
<rect x="457.6" y="142.85" width="8.1" height="2.7" fill="url(#chk)" stroke="#000" stroke-width="1.2"/>
<text x="472" y="138.44" font-size="6.8" textLength="19" lengthAdjust="spacingAndGlyphs" font-style="italic" >Fgf21</text>
<text x="491.4" y="135.42" font-size="4.9" font-style="italic">-/-</text>
<text x="497.5" y="138.44" font-size="6.8" textLength="15.5" lengthAdjust="spacingAndGlyphs" >CON</text>
<text x="472" y="146.64" font-size="6.8" textLength="19" lengthAdjust="spacingAndGlyphs" font-style="italic" >Fgf21</text>
<text x="491.4" y="143.62" font-size="4.9" font-style="italic">-/-</text>
<text x="497.5" y="146.64" font-size="6.8" textLength="11.2" lengthAdjust="spacingAndGlyphs" >MR</text>
<text x="13.5" y="254.64" font-size="14.5" text-anchor="middle" >G</text>
<text transform="translate(6.24,305.3) rotate(-90)" x="0" y="0" font-size="6.8" text-anchor="middle" textLength="92.6" lengthAdjust="spacingAndGlyphs">R<tspan font-size="4.5" dy="1.5">g</tspan><tspan dy="-1.5"> (Glucose metabolic index)</tspan></text>
<text transform="translate(15.57,305.3) rotate(-90)" x="0" y="0" font-size="6.6" text-anchor="middle" textLength="73.8" lengthAdjust="spacingAndGlyphs">(µmol/100 g tissue/min)</text>
<line x1="30.9" y1="259.9" x2="30.9" y2="350.8" stroke="#000" stroke-width="1"/>
<line x1="28.5" y1="260.4" x2="30.9" y2="260.4" stroke="#000" stroke-width="1"/>
<text x="27.5" y="262.53" font-size="6.2" text-anchor="end" >50</text>
<line x1="28.5" y1="278.38" x2="30.9" y2="278.38" stroke="#000" stroke-width="1"/>
<text x="27.5" y="280.51" font-size="6.2" text-anchor="end" >40</text>
<line x1="28.5" y1="296.36" x2="30.9" y2="296.36" stroke="#000" stroke-width="1"/>
<text x="27.5" y="298.49" font-size="6.2" text-anchor="end" >30</text>
<line x1="28.5" y1="314.34" x2="30.9" y2="314.34" stroke="#000" stroke-width="1"/>
<text x="27.5" y="316.47" font-size="6.2" text-anchor="end" >20</text>
<line x1="28.5" y1="332.32" x2="30.9" y2="332.32" stroke="#000" stroke-width="1"/>
<text x="27.5" y="334.45" font-size="6.2" text-anchor="end" >10</text>
<line x1="28.5" y1="350.3" x2="30.9" y2="350.3" stroke="#000" stroke-width="1"/>
<text x="27.5" y="352.43" font-size="6.2" text-anchor="end" >0</text>
<line x1="30.9" y1="350.3" x2="166.7" y2="350.3" stroke="#000" stroke-width="1"/>
<line x1="43.4" y1="347" x2="43.4" y2="345.5" stroke="#222" stroke-width="0.8"/>
<line x1="40.59" y1="345.5" x2="46.2" y2="345.5" stroke="#222" stroke-width="0.9"/>
<rect x="38.85" y="347.55" width="9.1" height="2.7" fill="#fff" stroke="#000" stroke-width="1.1"/>
<text x="43.4" y="344.27" font-size="7.2" text-anchor="middle" >a</text>
<line x1="57.45" y1="342.4" x2="57.45" y2="340.2" stroke="#222" stroke-width="0.8"/>
<line x1="54.51" y1="340.2" x2="60.39" y2="340.2" stroke="#222" stroke-width="0.9"/>
<rect x="52.1" y="342.4" width="10.7" height="8.4" fill="#000"/>
<text x="57.45" y="338.07" font-size="7.2" text-anchor="middle" >a</text>
<line x1="71.45" y1="343.8" x2="71.45" y2="342.2" stroke="#222" stroke-width="0.8"/>
<line x1="68.67" y1="342.2" x2="74.23" y2="342.2" stroke="#222" stroke-width="0.9"/>
<rect x="66.95" y="344.35" width="9" height="5.9" fill="url(#dots)" stroke="#000" stroke-width="1.1"/>
<text x="71.45" y="340.67" font-size="7.2" text-anchor="middle" >a</text>
<line x1="85.7" y1="345.7" x2="85.7" y2="344.6" stroke="#222" stroke-width="0.8"/>
<line x1="82.73" y1="344.6" x2="88.67" y2="344.6" stroke="#222" stroke-width="0.9"/>
<rect x="80.85" y="346.25" width="9.7" height="4" fill="url(#chk)" stroke="#000" stroke-width="1.1"/>
<text x="85.7" y="342.77" font-size="7.2" text-anchor="middle" >a</text>
<line x1="111.45" y1="344.7" x2="111.45" y2="342" stroke="#222" stroke-width="0.8"/>
<line x1="108.67" y1="342" x2="114.23" y2="342" stroke="#222" stroke-width="0.9"/>
<rect x="106.95" y="345.25" width="9" height="5" fill="#fff" stroke="#000" stroke-width="1.1"/>
<text x="111.45" y="338.37" font-size="7.2" text-anchor="middle" >a</text>
<line x1="125.45" y1="281.6" x2="125.45" y2="265.6" stroke="#222" stroke-width="0.8"/>
<line x1="122.67" y1="265.6" x2="128.23" y2="265.6" stroke="#222" stroke-width="0.9"/>
<rect x="120.4" y="281.6" width="10.1" height="69.2" fill="#000"/>
<text x="125.45" y="263.59" font-size="7.2" text-anchor="middle" >b</text>
<line x1="139.45" y1="341.9" x2="139.45" y2="338.9" stroke="#222" stroke-width="0.8"/>
<line x1="136.67" y1="338.9" x2="142.23" y2="338.9" stroke="#222" stroke-width="0.9"/>
<rect x="134.95" y="342.45" width="9" height="7.8" fill="url(#dots)" stroke="#000" stroke-width="1.1"/>
<text x="139.45" y="337.67" font-size="7.2" text-anchor="middle" >a</text>
<line x1="153.4" y1="313.4" x2="153.4" y2="306.3" stroke="#222" stroke-width="0.8"/>
<line x1="150.59" y1="306.3" x2="156.21" y2="306.3" stroke="#222" stroke-width="0.9"/>
<rect x="148.85" y="313.95" width="9.1" height="36.3" fill="url(#chk)" stroke="#000" stroke-width="1.1"/>
<text x="153.4" y="302.87" font-size="7.2" text-anchor="middle" >c</text>
<text x="64.4" y="360.54" font-size="6.8" text-anchor="middle" textLength="19.3" lengthAdjust="spacingAndGlyphs" >EWAT</text>
<text x="132.2" y="360.54" font-size="6.8" text-anchor="middle" textLength="16.3" lengthAdjust="spacingAndGlyphs" >IWAT</text>
<text x="98.4" y="371.39" font-size="8.4" text-anchor="middle" textLength="26" lengthAdjust="spacingAndGlyphs" >Tissue</text>
<rect x="48.7" y="259.9" width="8.2" height="3" fill="#fff" stroke="#000" stroke-width="1.2"/>
<rect x="48.1" y="268.8" width="9.4" height="4.2" fill="#000"/>
<rect x="48.7" y="279.3" width="8.2" height="3" fill="#f6f6f6" stroke="#000" stroke-width="1.2"/>
<rect x="48.7" y="289.1" width="8.2" height="3" fill="url(#chk)" stroke="#000" stroke-width="1.2"/>
<text x="63.1" y="263.54" font-size="6.8" textLength="30" lengthAdjust="spacingAndGlyphs" >WT CON</text>
<text x="63.1" y="273.59" font-size="6.8" textLength="25" lengthAdjust="spacingAndGlyphs" >WT MR</text>
<text x="63.1" y="284.14" font-size="6.8" textLength="19.2" lengthAdjust="spacingAndGlyphs" font-style="italic" >Fgf21</text>
<text x="82.7" y="281.12" font-size="4.9" font-style="italic">-/-</text>
<text x="90" y="284.14" font-size="6.8" textLength="15.8" lengthAdjust="spacingAndGlyphs" >CON</text>
<text x="63.1" y="293.44" font-size="6.8" textLength="19.2" lengthAdjust="spacingAndGlyphs" font-style="italic" >Fgf21</text>
<text x="82.7" y="290.42" font-size="4.9" font-style="italic">-/-</text>
<text x="90" y="293.44" font-size="6.8" textLength="10.8" lengthAdjust="spacingAndGlyphs" >MR</text>
</svg></body></html>
